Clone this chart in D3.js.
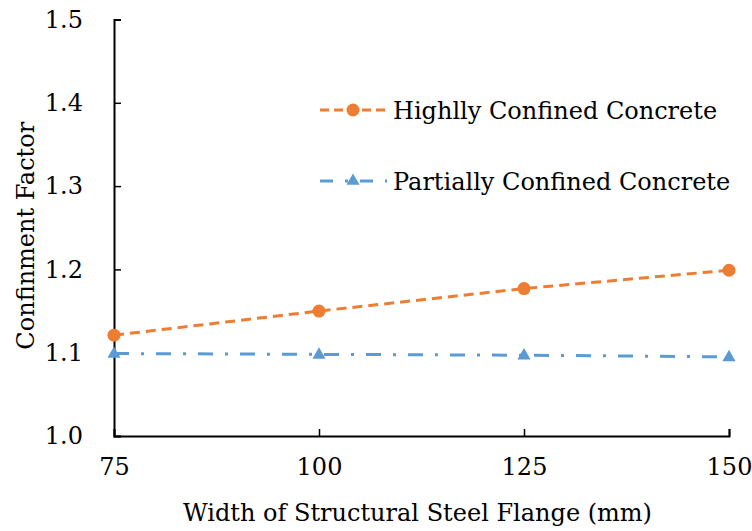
<!DOCTYPE html>
<html>
<head>
<meta charset="utf-8">
<title>Confinement Factor</title>
<script src="https://d3js.org/d3.v7.min.js"></script>
<style>
  body { margin: 0; background: #fff; }
</style>
</head>
<body>
<svg width="752" height="531"></svg>
<script>
    // data
    var widths = [75, 100, 125, 150];
    var highly = [1.121, 1.150, 1.177, 1.199];
    var partially = [1.099, 1.098, 1.097, 1.095];
    var yTicks = [1.0, 1.1, 1.2, 1.3, 1.4, 1.5];
    var seriesNames = ["Highlly Confined Concrete", "Partially Confined Concrete"];

    var fontStack = "'DejaVu Serif', serif";
    var svg = d3.select("svg");
    var margin = {top: 19.5, left: 114, right: 23, bottom: 95};
    var W = 752 - margin.left - margin.right;
    var H = 531 - margin.top - margin.bottom;

    var g = svg.append("g")
        .attr("transform", "translate(" + margin.left + "," + margin.top + ")");

    var x = d3.scaleLinear().domain([75, 150]).range([0, W]);
    var y = d3.scaleLinear().domain([1.0, 1.5]).range([H, 0]);

    // axes, ticks pointing inward
    var xAxis = d3.axisBottom(x).tickValues(widths).tickSize(-7).tickPadding(22)
        .tickFormat(d3.format("d"));
    var yAxis = d3.axisLeft(y).tickValues(yTicks).tickSize(-7).tickPadding(31)
        .tickFormat(d3.format(".1f"));

    var gx = g.append("g").attr("transform", "translate(0," + H + ")").call(xAxis);
    var gy = g.append("g").call(yAxis);
    [gx, gy].forEach(function (a) {
        a.attr("font-family", null).attr("font-size", null);
        a.select(".domain").attr("stroke", "#000").attr("stroke-width", 2);
        a.selectAll(".tick line").attr("stroke", "#000").attr("stroke-width", 1.5);
        a.selectAll(".tick text").attr("fill", "#000")
            .style("font-family", fontStack).style("font-size", "24px");
    });
    gx.selectAll(".tick text").attr("dy", "0.71em");

    // axis titles
    svg.append("text")
        .attr("x", margin.left + W / 2 - 4)
        .attr("y", 521)
        .attr("text-anchor", "middle")
        .style("font-family", fontStack)
        .style("font-size", "24px")
        .text("Width of Structural Steel Flange (mm)");
    svg.append("text")
        .attr("transform", "translate(34," + (margin.top + H / 2 + 8) + ") rotate(-90)")
        .attr("text-anchor", "middle")
        .style("font-family", fontStack)
        .style("font-size", "24px")
        .text("Confinment Factor");

    var orange = "#ED7D31", blue = "#5B9BD5";
    var line = d3.line().x(function (d) { return x(d[0]); }).y(function (d) { return y(d[1]); });

    var hData = widths.map(function (w, i) { return [w, highly[i]]; });
    var pData = widths.map(function (w, i) { return [w, partially[i]]; });

    g.append("path").datum(pData).attr("d", line)
        .attr("fill", "none").attr("stroke", blue).attr("stroke-width", 3)
        .attr("stroke-dasharray", "15,12,3,12");
    g.append("path").datum(hData).attr("d", line)
        .attr("fill", "none").attr("stroke", orange).attr("stroke-width", 3)
        .attr("stroke-dasharray", "10,6");

    var tri = d3.symbol().type(d3.symbolTriangle).size(75);

    g.selectAll(".tri").data(pData).enter().append("path")
        .attr("class", "tri")
        .attr("d", tri)
        .attr("transform", function (d) { return "translate(" + x(d[0]) + "," + (y(d[1]) + 0.5) + ")"; })
        .attr("fill", blue);
    g.selectAll(".dot").data(hData).enter().append("circle")
        .attr("class", "dot")
        .attr("cx", function (d) { return x(d[0]); })
        .attr("cy", function (d) { return y(d[1]); })
        .attr("r", 6.5)
        .attr("fill", orange);

    // legend
    var legend = svg.append("g");
    var items = [
        {name: seriesNames[0], color: orange, dash: "9,5", mark: "circle", yy: 110},
        {name: seriesNames[1], color: blue, dash: "13,12,3,12", mark: "tri", yy: 181}
    ];
    items.forEach(function (it) {
        legend.append("line")
            .attr("x1", 320).attr("x2", 387)
            .attr("y1", it.yy).attr("y2", it.yy)
            .attr("stroke", it.color).attr("stroke-width", 3)
            .attr("stroke-dasharray", it.dash);
        if (it.mark === "circle") {
            legend.append("circle").attr("cx", 353).attr("cy", it.yy).attr("r", 6.5).attr("fill", it.color);
        } else {
            legend.append("path").attr("d", tri)
                .attr("transform", "translate(353," + it.yy + ")").attr("fill", it.color);
        }
        legend.append("text")
            .attr("x", 393).attr("y", it.yy + 9)
            .style("font-family", fontStack)
            .style("font-size", "24px")
            .text(it.name);
    });
</script>
</body>
</html>
